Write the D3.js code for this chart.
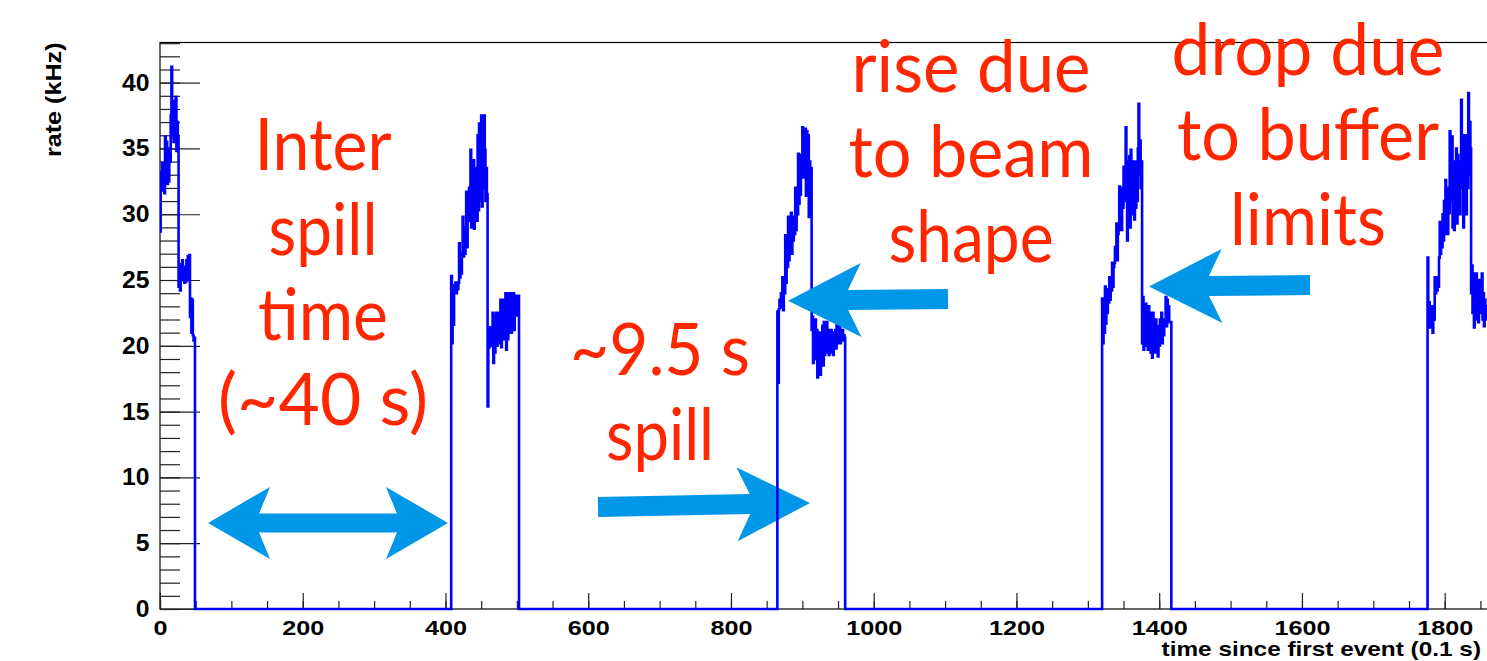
<!DOCTYPE html>
<html><head><meta charset="utf-8">
<script src="https://cdn.jsdelivr.net/npm/d3@7"></script>
<style>
html,body{margin:0;padding:0;background:#fff;}
svg{display:block;}
</style></head><body>
<svg id="chart" width="1487" height="661"></svg>
<script>
// ---------------- data ----------------
const xTickValues = [0, 200, 400, 600, 800, 1000, 1200, 1400, 1600, 1800];
const yTickValues = [0, 5, 10, 15, 20, 25, 30, 35, 40];
const xTitle = "time since first event (0.1 s)";
const yTitle = "rate (kHz)";

// first bin (in 0.1 s units) of each spill, and the per-bin rates (kHz)
const spillStarts = [0, 408, 865, 1320, 1776];
const spill1 = [28.7, 33.2, 31.8, 33.9, 32.0, 33.5, 31.6, 35.9, 33.0, 35.5, 32.3, 34.6, 32.5, 35.0, 34.0, 37.5, 41.2, 36.0, 38.0, 35.5,
  38.6, 36.0, 38.9, 34.8, 37.0, 35.9, 24.5, 25.8, 24.2, 26.2, 25.0, 26.5, 25.2, 26.0, 24.8, 25.5, 24.9, 26.5, 25.1, 26.8,
  25.0, 26.9, 22.2, 23.6, 21.0, 23.5, 20.8, 20.4, 20.6];
const spill2 = [25.3, 20.2, 24.0, 21.6, 24.6, 24.2, 24.8, 24.0, 24.6, 24.3, 24.8, 27.8, 25.2, 26.5, 25.5, 27.0, 29.8, 26.8, 28.5, 27.0,
  29.0, 31.7, 27.5, 30.5, 30.0, 32.0, 29.5, 34.9, 29.0, 33.0, 30.0, 34.1, 28.9, 33.0, 30.0, 33.5, 29.5, 36.0, 30.3, 36.9,
  31.0, 35.0, 37.5, 30.6, 36.0, 32.0, 37.5, 34.9, 31.0, 33.5, 31.5, 15.4, 21.4, 19.9, 21.0, 20.5, 21.4, 20.0, 22.5, 18.7,
  22.0, 19.5, 22.3, 22.5, 20.0, 22.0, 20.5, 22.5, 20.2, 23.5, 19.9, 23.0, 21.0, 23.5, 20.5, 22.8, 24.0, 19.7, 23.5, 20.5,
  24.0, 21.0, 23.8, 24.0, 21.0, 23.5, 21.5, 24.0, 21.2, 23.5, 23.8, 22.3, 23.6, 22.5, 23.8];
const spill3 = [22.6, 17.2, 22.8, 23.5, 22.9, 24.0, 23.0, 25.2, 22.7, 25.0, 24.0, 28.4, 24.8, 27.5, 26.0, 29.8, 26.5, 29.5, 27.5, 30.1,
  27.0, 29.5, 28.0, 29.8, 28.5, 32.0, 28.8, 31.5, 30.0, 34.6, 30.8, 34.0, 31.5, 34.5, 32.8, 36.6, 33.0, 36.5, 32.8, 36.5,
  31.4, 36.3, 33.0, 36.0, 29.8, 34.0, 31.0, 33.5, 21.2, 22.2, 18.7, 21.5, 19.5, 22.0, 19.0, 21.2, 17.6, 20.5, 18.0, 21.0,
  17.8, 20.8, 19.0, 21.5, 18.5, 21.8, 19.3, 21.5, 20.0, 21.8, 19.5, 21.2, 19.3, 21.0, 20.0, 21.2, 19.5, 20.8, 19.3, 21.0,
  20.0, 21.2, 19.8, 21.7, 20.2, 21.5, 20.5, 21.7, 20.2, 21.0, 20.6, 21.2, 20.4, 20.8, 20.6];
const spill4 = [23.6, 20.2, 23.0, 21.0, 24.5, 21.7, 24.0, 22.5, 24.3, 23.3, 25.2, 23.5, 24.8, 24.2, 26.3, 24.5, 26.0, 26.3, 27.5, 26.5,
  29.3, 26.5, 28.5, 28.8, 32.1, 29.0, 31.5, 28.8, 32.0, 30.5, 33.6, 31.0, 33.0, 36.6, 34.0, 28.0, 33.0, 29.5, 34.4, 29.0,
  34.9, 31.0, 33.5, 30.0, 34.0, 29.6, 33.5, 30.5, 34.0, 31.0, 35.0, 38.4, 33.0, 35.6, 32.0, 34.0, 20.2, 23.7, 19.7, 22.5,
  20.0, 23.2, 20.5, 22.0, 19.7, 23.0, 20.5, 22.5, 19.5, 21.5, 19.1, 22.5, 20.0, 21.8, 19.5, 22.0, 20.3, 21.5, 19.2, 21.0,
  20.0, 22.0, 20.5, 22.5, 20.2, 21.5, 20.8, 22.0, 21.5, 23.7, 21.5, 23.5, 22.0, 23.0, 21.8, 21.8, 21.8];
const spill5 = [26.7, 22.8, 23.3, 21.4, 23.0, 21.5, 23.0, 21.0, 23.0, 22.0, 25.2, 24.0, 25.0, 24.2, 25.2, 24.5, 26.7, 29.4, 27.0, 28.5,
  27.5, 30.0, 28.0, 31.0, 28.5, 32.6, 29.5, 31.5, 28.5, 32.0, 30.1, 36.3, 31.0, 34.0, 35.9, 29.0, 34.0, 28.8, 33.0, 30.5,
  35.0, 29.3, 34.5, 31.0, 33.0, 30.0, 34.0, 38.7, 32.0, 36.0, 29.0, 35.0, 31.0, 36.0, 30.0, 35.0, 32.0, 39.2, 33.0, 37.0,
  35.0, 24.0, 26.1, 22.5, 25.5, 21.4, 24.5, 22.0, 25.5, 22.5, 24.0, 21.8, 25.0, 22.5, 24.5, 23.0, 25.5, 22.0, 24.0, 21.5,
  23.5, 22.0, 23.0, 22.5, 23.0, 22.0, 23.5];
const spills = [spill1, spill2, spill3, spill4, spill5];
const nBins = 1880;

// ---------------- annotations (data coordinates) ----------------
const noteBlocks = [
  { t: 228.4, v: 33.37, lines: ["Inter", "spill", "time", "(~40 s)"], widths: [137, 109, 130, 210] },
  { t: 700.6, v: 17.78, lines: ["~9.5 s", "spill"], widths: [180, 108] },
  { t: 1136.3, v: 39.29, lines: ["rise due", "to beam", "shape"], widths: [239, 245, 165] },
  { t: 1608.5, v: 40.58, lines: ["drop due", "to buffer", "limits"], widths: [273, 262, 156] }
];
const noteArrows = [
  { t0: 67.3, v0: 6.54, t1: 403.5, v1: 6.54, both: true, front: true },
  { t0: 613.7, v0: 7.75, t1: 910.7, v1: 8.06, both: false, front: false },
  { t0: 1104.1, v0: 23.56, t1: 880.0, v1: 23.43, both: false, front: true },
  { t0: 1611.3, v0: 24.62, t1: 1385.7, v1: 24.50, both: false, front: true }
];

// ---------------- layout ----------------
const svg = d3.select("#chart");
const plotLeft = 160, plotBottom = 609, plotTop = 42.5;
const xMax = 1900, yMax = 43.05;
const x = d3.scaleLinear().domain([0, xMax]).range([plotLeft, plotLeft + xMax * 0.71372]);
const y = d3.scaleLinear().domain([0, yMax]).range([plotBottom, plotTop]);
const textRed = "#FF2600", arrowBlue = "#0097E9", lineBlue = "#0000FF";
const axisFont = "'Liberation Sans', Arial, Helvetica, sans-serif";

// build histogram bins
const bins = new Array(nBins).fill(0);
spills.forEach((arr, k) => arr.forEach((val, i) => { bins[spillStarts[k] + i] = val; }));
const pts = bins.map((val, i) => [i, val]);
pts.push([nBins, bins[nBins - 1]]);

// frame
svg.append("rect")
  .attr("x", plotLeft).attr("y", plotTop)
  .attr("width", x(xMax) - plotLeft).attr("height", plotBottom - plotTop)
  .attr("fill", "none").attr("stroke", "#000").attr("stroke-width", 1.2);

// y axis ticks (inward)
const yMinor = svg.append("g").attr("transform", `translate(${plotLeft},0)`)
  .call(d3.axisLeft(y).tickValues(d3.range(0, 44, 1)).tickSize(-20).tickFormat(""));
const yMajor = svg.append("g").attr("transform", `translate(${plotLeft},0)`)
  .call(d3.axisLeft(y).tickValues(yTickValues).tickSize(-40).tickPadding(10).tickFormat(d3.format("d")));
[yMinor, yMajor].forEach(g => {
  g.select(".domain").remove();
  g.selectAll("line").attr("stroke", "#222").attr("stroke-width", 1.2);
});
yMajor.selectAll("text")
  .attr("font-family", axisFont).attr("font-weight", "bold").attr("font-size", 23.5)
  .attr("fill", "#000").attr("transform", "scale(1.05,1)");

// x axis ticks (inward)
const xMinor = svg.append("g").attr("transform", `translate(0,${plotBottom})`)
  .call(d3.axisBottom(x).tickValues(d3.range(0, 1901, 50)).tickSize(-8).tickFormat(""));
const xMajor = svg.append("g").attr("transform", `translate(0,${plotBottom})`)
  .call(d3.axisBottom(x).tickValues(xTickValues).tickSize(-16).tickPadding(11).tickFormat(d3.format("d")));
[xMinor, xMajor].forEach(g => {
  g.select(".domain").remove();
  g.selectAll("line").attr("stroke", "#222").attr("stroke-width", 1.2);
});
xMajor.selectAll("text")
  .attr("font-family", axisFont).attr("font-weight", "bold").attr("font-size", 21)
  .attr("fill", "#000").attr("transform", "scale(1.2,1)");

// axis titles
svg.append("text")
  .attr("transform", `translate(61,${plotTop}) rotate(-90) scale(1.17,1)`)
  .attr("text-anchor", "end")
  .attr("font-family", axisFont).attr("font-weight", "bold").attr("font-size", 21.5)
  .attr("fill", "#000").text(yTitle);
svg.append("text")
  .attr("transform", `translate(1481,656) scale(1.16,1)`)
  .attr("text-anchor", "end")
  .attr("font-family", axisFont).attr("font-weight", "bold").attr("font-size", 21)
  .attr("fill", "#000").text(xTitle);

// arrows
function arrowPoints(a) {
  const x0 = x(a.t0), y0 = y(a.v0), x1 = x(a.t1), y1 = y(a.v1);
  const dx = x1 - x0, dy = y1 - y0, len = Math.hypot(dx, dy);
  const ux = dx / len, uy = dy / len, nx = -uy, ny = ux;
  const w = a.both ? 9.5 : 10, L = a.both ? 62 : 73, H = a.both ? 36 : 37, n = a.both ? 11 : 13;
  let loc;
  if (a.both) {
    loc = [[0, 0], [L, -H], [L - n, -w], [len - L + n, -w], [len - L, -H], [len, 0],
           [len - L, H], [len - L + n, w], [L - n, w], [L, H]];
  } else {
    loc = [[0, -w], [len - L + n, -w], [len - L, -H], [len, 0], [len - L, H], [len - L + n, w], [0, w]];
  }
  return loc.map(([u, v]) => [x0 + ux * u + nx * v, y0 + uy * u + ny * v].join(",")).join(" ");
}
const arrowBack = svg.append("g"), lineLayer = svg.append("g"), arrowFront = svg.append("g");
noteArrows.forEach(a => {
  (a.front ? arrowFront : arrowBack).append("polygon")
    .attr("points", arrowPoints(a)).attr("fill", arrowBlue);
});

// histogram line
svg.append("defs").append("clipPath").attr("id", "plotclip")
  .append("rect").attr("x", plotLeft).attr("y", plotTop).attr("width", x(xMax) - plotLeft).attr("height", plotBottom - plotTop + 3);
const line = d3.line().x(d => x(d[0])).y(d => y(d[1])).curve(d3.curveStepAfter);
lineLayer.append("path")
  .attr("clip-path", "url(#plotclip)")
  .attr("d", line(pts))
  .attr("fill", "none").attr("stroke", lineBlue).attr("stroke-width", 2.6)
  .attr("stroke-linejoin", "miter");

// annotation text
const lineGap = 85;
noteBlocks.forEach(b => {
  b.lines.forEach((s, i) => {
    svg.append("text")
      .attr("x", x(b.t)).attr("y", y(b.v) + i * lineGap)
      .attr("text-anchor", "middle")
      .attr("font-family", "Lato, 'Open Sans', sans-serif").attr("font-size", 72)
      .attr("fill", textRed)
      .attr("textLength", b.widths[i]).attr("lengthAdjust", "spacingAndGlyphs")
      .text(s);
  });
});
</script>
</body></html>
